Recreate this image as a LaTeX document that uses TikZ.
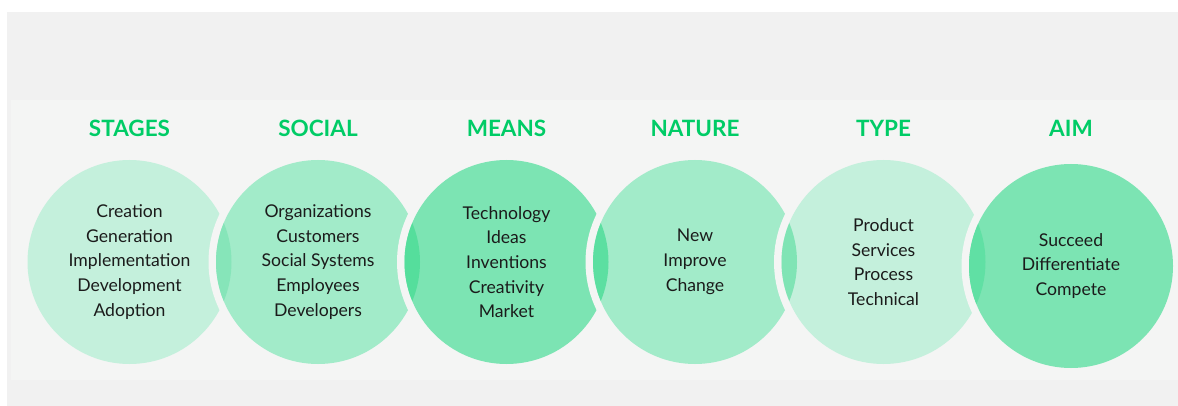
\documentclass[tikz,border=0pt]{standalone}
\usepackage{fontspec}
\setmainfont{Lato}
\definecolor{panel}{HTML}{F1F1F1}
\definecolor{band}{HTML}{F4F5F4}
\definecolor{hdr}{HTML}{00CC66}
\definecolor{txt}{HTML}{1B1B1B}
\definecolor{cl}{HTML}{C4F0DC}
\definecolor{cm}{HTML}{A2EBC9}
\definecolor{cd}{HTML}{7CE4B3}
\definecolor{lensa}{HTML}{86E5B9}
\definecolor{lensb}{HTML}{55DE9C}
\definecolor{lensc}{HTML}{5CDFA1}
\definecolor{lensd}{HTML}{80E4B5}
\definecolor{lense}{HTML}{60E0A4}
\tikzset{
  bubble/.style={circle, minimum size=204pt, inner sep=0pt, align=center,
    text=txt, font=\fontsize{17.6}{24.7}\selectfont},
  header/.style={text=hdr, font=\fontsize{22.5}{26}\selectfont\bfseries},
}
\begin{document}
\begin{tikzpicture}[x=1pt,y=-1pt]
\useasboundingbox (0,0) rectangle (1178,406);
\fill[white] (0,0) rectangle (1178,406);
\fill[panel] (7,12) rectangle (1178,406);
\fill[band] (11,100) rectangle (1178,380);

% headers
\node[header] (h1) at (129.5,128) {STAGES};
\node[header] (h2) at (318,128) {SOCIAL};
\node[header] (h3) at (506.5,128) {MEANS};
\node[header] (h4) at (695,128) {NATURE};
\node[header] (h5) at (883.5,128) {TYPE};
\node[header] (h6) at (1071,128) {AIM};

% circle 1
\node[bubble, fill=cl] (c1) at (129.5,262) {Creation\\Generation\\Implementation\\Development\\Adoption};

% circle 2
\fill[band] (318,262) circle[radius=109.5];
\node[bubble, fill=cm] (c2) at (318,262) {Organizations\\Customers\\Social Systems\\Employees\\Developers};
\begin{scope}
  \clip (c1.center) circle[radius=102];
  \fill[lensa] (c2.center) circle[radius=102];
\end{scope}

% circle 3
\fill[band] (506.5,262) circle[radius=109.5];
\node[bubble, fill=cd] (c3) at (506.5,262) {Technology\\Ideas\\Inventions\\Creativity\\Market};
\begin{scope}
  \clip (c2.center) circle[radius=102];
  \fill[lensb] (c3.center) circle[radius=102];
\end{scope}

% circle 4
\fill[band] (695,262) circle[radius=109.5];
\node[bubble, fill=cm] (c4) at (695,262) {New\\Improve\\Change};
\begin{scope}
  \clip (c3.center) circle[radius=102];
  \fill[lensc] (c4.center) circle[radius=102];
\end{scope}

% circle 5
\fill[band] (883.5,262) circle[radius=109.5];
\node[bubble, fill=cl] (c5) at (883.5,262) {Product\\Services\\Process\\Technical};
\begin{scope}
  \clip (c4.center) circle[radius=102];
  \fill[lensd] (c5.center) circle[radius=102];
\end{scope}

% circle 6
\fill[band] (1071,266) circle[radius=109.5];
\node[bubble, fill=cd] (c6) at (1071,266) {Succeed\\Differentiate\\Compete};
\begin{scope}
  \clip (c5.center) circle[radius=102];
  \fill[lense] (c6.center) circle[radius=102];
\end{scope}
\end{tikzpicture}
\end{document}
